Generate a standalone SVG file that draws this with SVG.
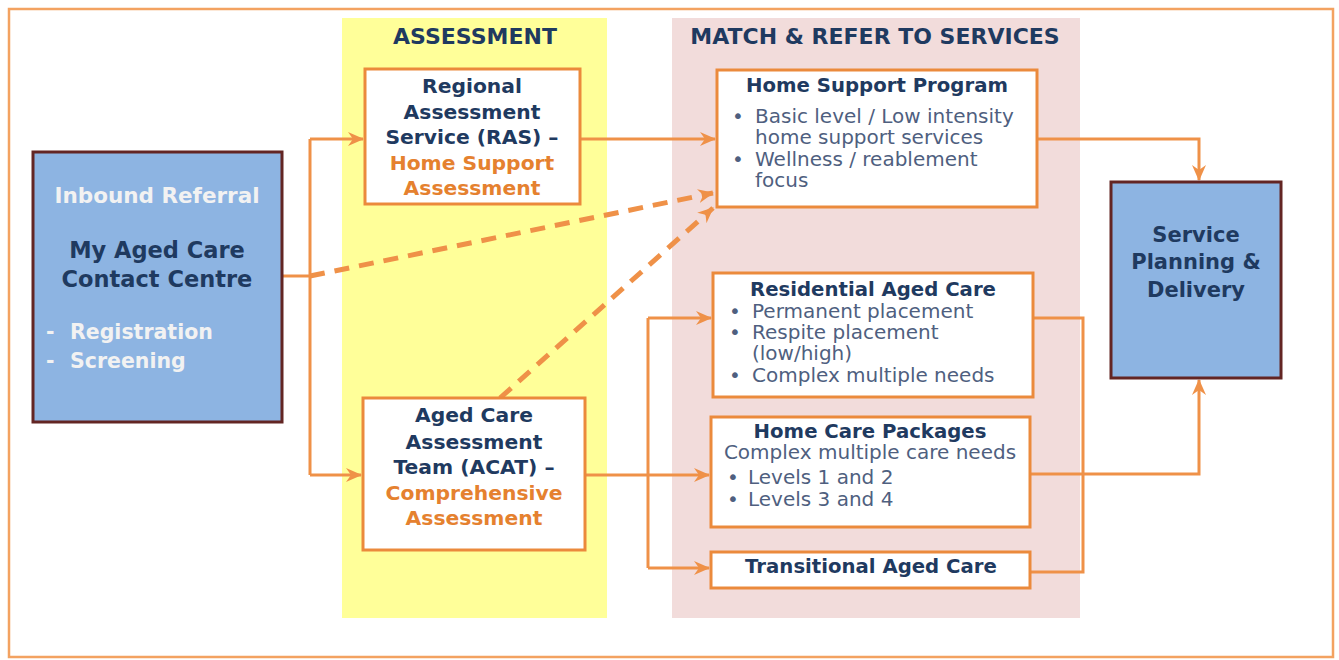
<svg xmlns="http://www.w3.org/2000/svg" width="1339" height="660" viewBox="0 0 1339 660">
<style>
.frame{fill:#ffffff;stroke:#f3a261;stroke-width:2.5}
.col-a{fill:#ffff99}
.col-m{fill:#f2dcdb}
.box{fill:#ffffff;stroke:#eb8a3c;stroke-width:3}
.blue{fill:#8db4e2;stroke:#632523;stroke-width:3}
.hd{font-family:"DejaVu Sans","Liberation Sans",sans-serif;font-weight:bold;fill:#1f3a60;text-anchor:middle}
.st{text-anchor:start}
.or{fill:#e5812f}
.wt{fill:#f2f2f2}
.tt{font-family:"DejaVu Sans","Liberation Sans",sans-serif;font-weight:bold;font-size:19.7px;fill:#1f3a60;text-anchor:middle}
.bd{font-family:"DejaVu Sans","Liberation Sans",sans-serif;font-size:20px;fill:#4f5f7f}
.ln{fill:none;stroke:#ef9148;stroke-width:3}
.dl{fill:none;stroke:#ef9148;stroke-width:5;stroke-dasharray:15 10}
</style>
<defs>
<marker id="ah" markerUnits="userSpaceOnUse" markerWidth="16" markerHeight="14" refX="15" refY="7" orient="auto">
<path d="M0,0 L16,7 L0,14 L5,7 z" fill="#ef9148"/>
</marker>
</defs>
<rect class="frame" x="9" y="9" width="1324" height="648"/>
<rect class="col-a" x="342" y="18" width="265" height="600"/>
<rect class="col-m" x="672" y="18" width="408" height="600"/>
<text class="hd" x="475" y="44" font-size="22">ASSESSMENT</text>
<text class="hd" x="875" y="44" font-size="22">MATCH &amp; REFER TO SERVICES</text>

<g id="connectors">
<path class="ln" d="M282,276 H310"/>
<path class="ln" d="M310,139 V475"/>
<path class="ln" d="M310,139 H363" marker-end="url(#ah)"/>
<path class="ln" d="M310,475 H361" marker-end="url(#ah)"/>
<path class="dl" d="M310,276 L713,193" marker-end="url(#ah)"/>
<path class="dl" d="M500,398 L713,208" marker-end="url(#ah)"/>
<path class="ln" d="M580,139 H715" marker-end="url(#ah)"/>
<path class="ln" d="M1037,139 H1199 V180" marker-end="url(#ah)"/>
<path class="ln" d="M585,475 H709" marker-end="url(#ah)"/>
<path class="ln" d="M648,318 V568"/>
<path class="ln" d="M648,318 H711" marker-end="url(#ah)"/>
<path class="ln" d="M648,568 H709" marker-end="url(#ah)"/>
<path class="ln" d="M1033,318 H1083 V572 H1030"/>
<path class="ln" d="M1030,474 H1199 V380" marker-end="url(#ah)"/>
</g>

<g id="inbound">
<rect class="blue" x="33" y="152" width="249" height="270"/>
<text class="hd wt" x="157" y="203" font-size="21.5">Inbound Referral</text>
<text class="hd" x="157" y="258" font-size="22.5">My Aged Care</text>
<text class="hd" x="157" y="287" font-size="22.5">Contact Centre</text>
<text class="hd wt st" x="46" y="339" font-size="20.5">-</text>
<text class="hd wt st" x="70" y="339" font-size="20.5">Registration</text>
<text class="hd wt st" x="46" y="368" font-size="20.5">-</text>
<text class="hd wt st" x="70" y="368" font-size="20.5">Screening</text>
</g>

<g id="ras">
<rect class="box" x="365" y="69" width="215" height="135"/>
<text class="hd" x="472" y="93" font-size="20.3">Regional</text>
<text class="hd" x="472" y="119" font-size="20.3">Assessment</text>
<text class="hd" x="472" y="144" font-size="20.3">Service (RAS) –</text>
<text class="hd or" x="472" y="170" font-size="20.3">Home Support</text>
<text class="hd or" x="472" y="195" font-size="20.3">Assessment</text>
</g>

<g id="acat">
<rect class="box" x="363" y="398" width="222" height="152"/>
<text class="hd" x="474" y="422" font-size="20.3">Aged Care</text>
<text class="hd" x="474" y="449" font-size="20.3">Assessment</text>
<text class="hd" x="474" y="474" font-size="20.3">Team (ACAT) –</text>
<text class="hd or" x="474" y="500" font-size="20.3">Comprehensive</text>
<text class="hd or" x="474" y="525" font-size="20.3">Assessment</text>
</g>

<g id="hsp">
<rect class="box" x="717" y="70" width="320" height="137"/>
<text class="tt" x="877" y="92">Home Support Program</text>
<text class="bd" x="732" y="123">•</text>
<text class="bd" x="755" y="123">Basic level / Low intensity</text>
<text class="bd" x="755" y="144">home support services</text>
<text class="bd" x="732" y="166">•</text>
<text class="bd" x="755" y="166">Wellness / reablement</text>
<text class="bd" x="755" y="187">focus</text>
</g>

<g id="rac">
<rect class="box" x="713" y="273" width="320" height="124"/>
<text class="tt" x="873" y="296">Residential Aged Care</text>
<text class="bd" x="729" y="318">•</text>
<text class="bd" x="752" y="318">Permanent placement</text>
<text class="bd" x="729" y="339">•</text>
<text class="bd" x="752" y="339">Respite placement</text>
<text class="bd" x="752" y="360">(low/high)</text>
<text class="bd" x="729" y="382">•</text>
<text class="bd" x="752" y="382">Complex multiple needs</text>
</g>

<g id="hcp">
<rect class="box" x="711" y="417" width="319" height="110"/>
<text class="tt" x="870" y="438">Home Care Packages</text>
<text class="bd" x="870" y="459" font-size="18" text-anchor="middle">Complex multiple care needs</text>
<text class="bd" x="727" y="484">•</text>
<text class="bd" x="748" y="484">Levels 1 and 2</text>
<text class="bd" x="727" y="506">•</text>
<text class="bd" x="748" y="506">Levels 3 and 4</text>
</g>

<g id="tac">
<rect class="box" x="711" y="552" width="319" height="36"/>
<text class="tt" x="871" y="573">Transitional Aged Care</text>
</g>

<g id="spd">
<rect class="blue" x="1111" y="182" width="170" height="196"/>
<text class="hd" x="1196" y="242" font-size="21">Service</text>
<text class="hd" x="1196" y="269" font-size="21">Planning &amp;</text>
<text class="hd" x="1196" y="297" font-size="21">Delivery</text>
</g>
</svg>
